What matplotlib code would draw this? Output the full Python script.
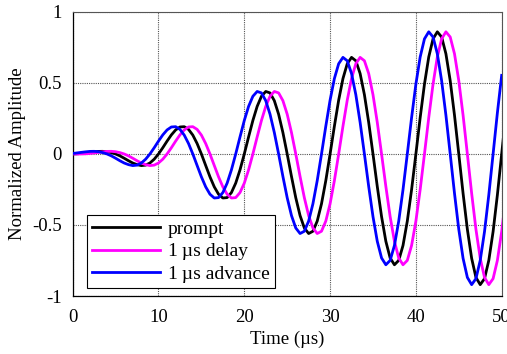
import numpy as np
import matplotlib
matplotlib.use("Agg")
import matplotlib.pyplot as plt

# Time samples (µs) of the prompt waveform
time_us = np.arange(-1.0, 51.0 + 0.25, 0.5)

# Prompt waveform, normalized amplitude
prompt = [
    0.0, 0.0,
    0.0, 0.001, 0.0035, 0.0073, 0.0114, 0.015, 0.0181, 0.0186, 0.0159, 0.0096,
    0.0, -0.0133, -0.030, -0.0477, -0.0637, -0.075, -0.0818, -0.0785, -0.0635, -0.0368,
    0.0, 0.0439, 0.0906, 0.1343, 0.1693, 0.19, 0.1921, 0.1731, 0.1329, 0.0735,
    0.0, -0.081, -0.1611, -0.2314, -0.2834, -0.31, -0.3072, -0.2718, -0.2052, -0.1119,
    0.0, 0.1199, 0.2358, 0.3349, 0.4061, 0.44, 0.4299, 0.3754, 0.2799, 0.1508,
    0.0, -0.1582, -0.3081, -0.4336, -0.5211, -0.56, -0.544, -0.4725, -0.3504, -0.1879,
    0.0, 0.1953, 0.3787, 0.5307, 0.6353, 0.68, 0.6562, 0.5663, 0.4175, 0.2225,
    0.0, -0.2287, -0.441, -0.6148, -0.7323, -0.78, -0.7494, -0.644, -0.4728, -0.2509,
    0.0, 0.2559, 0.4916, 0.6828, 0.8103, 0.86, 0.8236, 0.7054, 0.5163, 0.2732,
    0.0, -0.2769, -0.5304, -0.7346, -0.8692, -0.92, -0.8778, -0.7491, -0.5463, -0.288,
    0.0, 0.2898, 0.5533,
]

shift_us = 1.0  # delay / advance of the other two traces

series_labels = ["prompt", "1\u2009µs delay", "1\u2009µs advance"]
series_colors = ["black", "#ff00ff", "#0000ff"]
series_offsets = [0.0, shift_us, -shift_us]

x_ticks = [0, 10, 20, 30, 40, 50]
y_ticks = [-1, -0.5, 0, 0.5, 1]
y_ticklabels = ["-1", "-0.5", "0", "0.5", "1"]

plt.rcParams["font.family"] = ["Liberation Serif", "DejaVu Serif"]
plt.rcParams["axes.unicode_minus"] = False

fig = plt.figure(figsize=(5.07, 3.54), dpi=100)
ax = fig.add_axes([0.1434, 0.1638, 0.8461, 0.8025])

for lab, col, off in zip(series_labels, series_colors, series_offsets):
    ax.plot(time_us + off, prompt, color=col, lw=2.0, label=lab, zorder=3)

ax.set_xlim(0, 50)
ax.set_ylim(-1, 1)
ax.set_xticks(x_ticks)
ax.set_yticks(y_ticks)
ax.set_yticklabels(y_ticklabels)
ax.tick_params(axis="x", length=0, labelsize=13.5, pad=9)
ax.tick_params(axis="y", length=0, labelsize=13.5, pad=8)
ax.grid(True, color="#555555", lw=0.8, linestyle=(0, (1, 1)))
for s in ["top", "right"]:
    ax.spines[s].set_color("#555555")
    ax.spines[s].set_linewidth(0.8)
for s in ["left", "bottom"]:
    ax.spines[s].set_color("black")
    ax.spines[s].set_linewidth(0.9)

ax.set_xlabel("Time (µs)", fontsize=13.5, labelpad=4)
ax.set_ylabel("Normalized Amplitude", fontsize=13.5, labelpad=4)

leg = ax.legend(loc="lower left", bbox_to_anchor=(0.034, 0.029), borderaxespad=0,
                fontsize=14, handlelength=3.5, handletextpad=0.4,
                labelspacing=0.25, borderpad=0.25, fancybox=False, framealpha=1)
leg.get_frame().set_edgecolor("black")
leg.get_frame().set_linewidth(0.8)

fig.savefig("out.png", dpi=100)
